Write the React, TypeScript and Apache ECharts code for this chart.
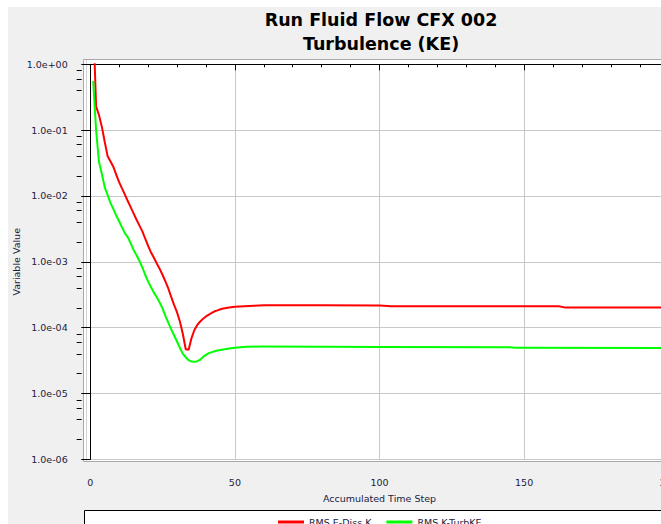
import React, { useEffect, useRef } from "react";
import * as echarts from "echarts";

const TITLE_TEXT = "Run Fluid Flow CFX 002\nTurbulence (KE)";
const X_NAME = "Accumulated Time Step";
const Y_NAME = "Variable Value";
const SERIES_NAMES = ["RMS E-Diss.K", "RMS K-TurbKE"];

const redSteps = [
  1, 2, 3, 4, 5, 6, 7, 8, 9, 10, 11, 12, 13, 14, 15, 16, 17, 18, 19, 20,
  21, 22, 23, 24, 25, 26, 27, 28, 29, 30, 31, 32, 33, 34, 35, 36, 37, 38, 39, 40,
  41, 42, 43, 44, 45, 46, 48, 50, 55, 60, 80, 100, 104, 162, 164, 200,
];
const redValues = [
  5, 0.23, 0.17, 0.112, 0.066, 0.04, 0.0334, 0.0275, 0.0209, 0.0161,
  0.0129, 0.0104, 0.0083, 0.0067, 0.0054, 0.00435, 0.00355, 0.0029, 0.00224, 0.00174,
  0.00138, 0.00115, 0.00094, 0.00078, 0.00063, 0.0005, 0.00039, 0.00029, 0.00022, 0.00017,
  0.000123, 0.00008, 0.000047, 0.000046, 0.0000695, 0.000092, 0.00011, 0.000124, 0.000136, 0.000148,
  0.000158, 0.000167, 0.000177, 0.000183, 0.00019, 0.000195, 0.000202, 0.000208, 0.000214, 0.000218,
  0.000219, 0.000217, 0.000212, 0.000211, 0.000203, 0.000202,
];

const greenSteps = [
  1, 2, 3, 4, 5, 6, 7, 8, 9, 10, 11, 12, 13, 14, 15, 16, 17, 18, 19, 20,
  21, 22, 23, 24, 25, 26, 27, 28, 29, 30, 31, 32, 33, 34, 35, 36, 37, 38, 39, 40,
  41, 42, 43, 44, 45, 46, 48, 50, 54, 60, 100, 145, 147, 200,
];
const greenValues = [
  0.56, 0.1, 0.033, 0.0216, 0.0135, 0.0103, 0.0078, 0.0063, 0.005, 0.0041,
  0.0033, 0.0027, 0.00235, 0.0019, 0.0015, 0.00126, 0.00103, 0.00082, 0.00063, 0.0005,
  0.00041, 0.00034, 0.00029, 0.00024, 0.000195, 0.00015, 0.000118, 0.000094, 0.000076, 0.000061,
  0.000049, 0.00004, 0.0000355, 0.000032, 0.0000305, 0.0000302, 0.000031, 0.0000325, 0.000036, 0.0000385,
  0.000041, 0.0000425, 0.0000437, 0.0000448, 0.0000458, 0.0000467, 0.0000483, 0.0000496, 0.0000513, 0.0000515,
  0.000051, 0.0000505, 0.0000495, 0.000049,
];

const X_MIN = 0;
const X_MAX = 200;
const X_INTERVAL = 50;
const Y_MIN = 1e-6;
const Y_MAX = 1;
const DECADE_EXPONENTS = [-6, -5, -4, -3, -2, -1];
const MINOR_MULTIPLIERS = [2, 4, 6, 8];

const FONT = "DejaVu Sans";
const LABEL_COLOR = "#202040";

function formatExp(v: number): string {
  const e = Math.round(Math.log10(v));
  const sign = e >= 0 ? "+" : "-";
  const a = Math.abs(e);
  return "1.0e" + sign + (a < 10 ? "0" + a : String(a));
}

export default function App() {
  const ref = useRef<HTMLDivElement>(null);

  useEffect(() => {
    if (!ref.current) return;
    const chart = echarts.init(ref.current, undefined, { renderer: "svg" });

    const minorTickLogs: number[] = [];
    DECADE_EXPONENTS.forEach((e) => {
      MINOR_MULTIPLIERS.forEach((m) => {
        minorTickLogs.push(Math.log10(m * Math.pow(10, e)));
      });
    });

    const gridLeft = 82.3;
    const gridTop = 57.3;
    const gridWidth = 578.4;
    const gridHeight = 395;

    chart.setOption({
      animation: false,
      backgroundColor: "#f0f0f0",
      title: {
        text: TITLE_TEXT,
        left: "center",
        top: 1,
        padding: 0,
        textStyle: {
          fontFamily: FONT,
          fontSize: 17.5,
          fontWeight: "bold",
          color: "#000",
          lineHeight: 24,
        },
      },
      graphic: [
        {
          type: "rect",
          z: -100,
          shape: { x: 75.5, y: 52.5, width: 700, height: 402 },
          style: { fill: "#ffffff", stroke: "#a8a8a8", lineWidth: 1 },
          silent: true,
        },
        {
          type: "line",
          z: -99,
          shape: { x1: 78.5, y1: 53, x2: 78.5, y2: 454 },
          style: { stroke: "#d4d4d4", lineWidth: 1 },
          silent: true,
        },
        {
          type: "rect",
          z: -100,
          shape: { x: 76.5, y: 503.5, width: 700, height: 60 },
          style: { fill: "#ffffff", stroke: "#000000", lineWidth: 1 },
          silent: true,
        },
      ],
      legend: {
        data: SERIES_NAMES,
        left: 265,
        top: 505,
        icon: "rect",
        itemWidth: 26,
        itemHeight: 3,
        itemGap: 15,
        itemStyle: { borderWidth: 0 },
        textStyle: { fontFamily: FONT, fontSize: 9.5, color: LABEL_COLOR },
      },
      grid: {
        left: gridLeft,
        top: gridTop,
        width: gridWidth,
        height: gridHeight,
        containLabel: false,
        outerBoundsMode: "none",
      },
      xAxis: {
        type: "value",
        min: X_MIN,
        max: X_MAX,
        interval: X_INTERVAL,
        offset: 9,
        name: X_NAME,
        nameLocation: "middle",
        nameGap: 25,
        nameMoveOverlap: false,
        nameTextStyle: { fontFamily: FONT, fontSize: 9.5, color: LABEL_COLOR },
        axisLine: { show: true, lineStyle: { color: "#000", width: 1 } },
        axisTick: { show: true, length: 6, lineStyle: { color: "#000" } },
        minorTick: { show: true, splitNumber: 5, length: 3, lineStyle: { color: "#000" } },
        splitLine: { show: true, lineStyle: { color: "#c8c8c8", width: 1 } },
        axisLabel: { margin: 9, fontFamily: FONT, fontSize: 9.5, color: LABEL_COLOR },
      },
      yAxis: [
        {
          type: "log",
          logBase: 10,
          min: Y_MIN,
          max: Y_MAX,
          position: "left",
          offset: 8.6,
          name: Y_NAME,
          nameLocation: "middle",
          nameRotate: 90,
          nameGap: 60,
          nameMoveOverlap: false,
          nameTextStyle: { fontFamily: FONT, fontSize: 9.5, color: LABEL_COLOR },
          axisLine: { show: true, lineStyle: { color: "#000", width: 1 } },
          axisTick: { show: true, length: 9, lineStyle: { color: "#000" } },
          splitLine: { show: true, lineStyle: { color: "#c8c8c8", width: 1 } },
          axisLabel: {
            margin: 14,
            fontFamily: FONT,
            fontSize: 9.5,
            color: LABEL_COLOR,
            formatter: (v: number) => formatExp(v),
          },
        },
        {
          type: "value",
          min: Math.log10(Y_MIN),
          max: Math.log10(Y_MAX),
          position: "left",
          offset: 8.6,
          axisLine: { show: false },
          axisTick: {
            show: true,
            length: 5,
            customValues: minorTickLogs,
            lineStyle: { color: "#000" },
          },
          axisLabel: { show: false },
          splitLine: { show: false },
        },
      ],
      series: [
        {
          name: SERIES_NAMES[0],
          type: "line",
          yAxisIndex: 0,
          showSymbol: false,
          symbol: "none",
          clip: true,
          color: "#ff0000",
          lineStyle: { color: "#ff0000", width: 2 },
          data: redSteps.map((s, i) => [s, redValues[i]]),
        },
        {
          name: SERIES_NAMES[1],
          type: "line",
          yAxisIndex: 0,
          showSymbol: false,
          symbol: "none",
          clip: true,
          color: "#00ff00",
          lineStyle: { color: "#00ff00", width: 2 },
          data: greenSteps.map((s, i) => [s, greenValues[i]]),
        },
      ],
    });

    return () => {
      chart.dispose();
    };
  }, []);

  return (
    <div
      style={{
        position: "fixed",
        left: 8,
        top: 7,
        right: 0,
        bottom: 0,
        overflow: "hidden",
        background: "#f0f0f0",
      }}
    >
      <div ref={ref} style={{ width: 746, height: 540 }} />
    </div>
  );
}
